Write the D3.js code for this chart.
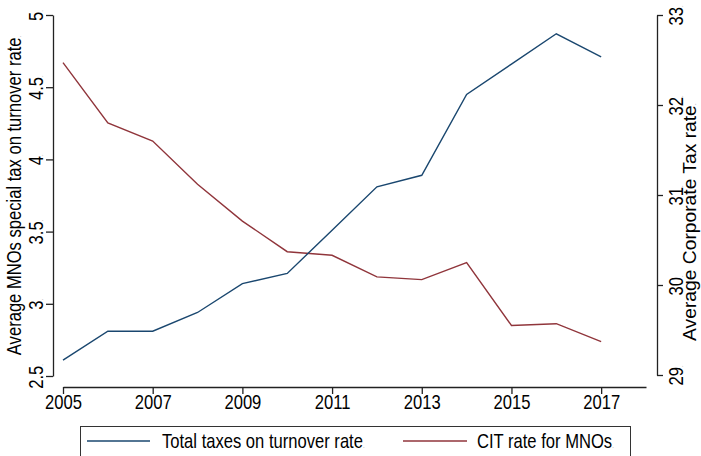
<!DOCTYPE html>
<html>
<head>
<meta charset="utf-8">
<script src="https://cdn.jsdelivr.net/npm/d3@7"></script>
<style>
  body { margin: 0; background: #fff; }
  svg { display: block; font-family: "Liberation Sans", Arial, sans-serif; }
  .domain, .tick line { stroke: #222; }
</style>
</head>
<body>
<svg id="chart" width="701" height="456"></svg>
<script>
// years on the x axis
const years = [2005, 2006, 2007, 2008, 2009, 2010, 2011, 2012, 2013, 2014, 2015, 2016, 2017];
// left axis: total taxes on turnover rate
const turnoverRate = [2.61, 2.81, 2.81, 2.94, 3.14, 3.21, 3.51, 3.81, 3.89, 4.45, 4.66, 4.87, 4.71];
// right axis: CIT rate for MNOs
const citRate = [32.47, 31.80, 31.60, 31.12, 30.71, 30.37, 30.33, 30.09, 30.06, 30.25, 29.55, 29.57, 29.37];

const xTicks = [2005, 2007, 2009, 2011, 2013, 2015, 2017];
const leftTicks = [2.5, 3, 3.5, 4, 4.5, 5];
const rightTicks = [29, 30, 31, 32, 33];
const leftTitle = 'Average MNOs special tax on turnover rate';
const rightTitle = 'Average Corporate Tax rate';
const legendLabels = ['Total taxes on turnover rate', 'CIT rate for MNOs'];
const colors = ['#1a476f', '#90353b'];

const svg = d3.select('#chart');
const squeeze = 0.83; // stata text is narrow

let x = d3.scaleLinear().domain([2005, 2018]).range([63, 646]);
let yLeft = d3.scaleLinear().domain([2.5, 5]).range([376, 15]);
let yRight = d3.scaleLinear().domain([29, 33]).range([375, 15]);

/// little trailing dot after every label, like the export
function addDot(sel) {
  sel.append('tspan').text('.').attr('font-size', '7px').attr('fill', '#999');
}

// x axis
let gx = svg.append('g')
  .attr('transform', 'translate(0,387)')
  .call(d3.axisBottom(x).tickValues(xTicks).tickFormat(d3.format('d')).tickSize(7).tickSizeOuter(0));
gx.selectAll('text')
  .attr('y', 22).attr('dy', null)
  .attr('font-size', '20px').attr('fill', '#000')
  .attr('transform', `scale(${squeeze},1)`);

// left axis
let gl = svg.append('g')
  .attr('transform', 'translate(53,0)')
  .call(d3.axisLeft(yLeft).tickValues(leftTicks).tickFormat(d => d).tickSize(7).tickSizeOuter(0));
gl.selectAll('text')
  .attr('x', 0).attr('y', -10).attr('dy', null)
  .attr('text-anchor', 'middle')
  .attr('font-size', '20px').attr('fill', '#000')
  .attr('transform', `rotate(-90) scale(${squeeze},1)`)
  .call(addDot);

// right axis
let gr = svg.append('g')
  .attr('transform', 'translate(657,0)')
  .call(d3.axisRight(yRight).tickValues(rightTicks).tickFormat(d => d).tickSize(6).tickSizeOuter(0));
gr.selectAll('text')
  .attr('x', 0).attr('y', 26).attr('dy', null)
  .attr('text-anchor', 'middle')
  .attr('font-size', '20px').attr('fill', '#000')
  .attr('transform', `rotate(-90) scale(${squeeze},1)`)
  .call(addDot);

svg.selectAll('.domain').attr('stroke-width', 1.3);
svg.selectAll('.tick line').attr('stroke-width', 1.3);

// axis titles
svg.append('text')
  .attr('transform', `translate(21,${(15 + 376) / 2}) rotate(-90) scale(${squeeze},1)`)
  .attr('text-anchor', 'middle')
  .attr('font-size', '20px')
  .text(leftTitle)
  .call(addDot);

svg.append('text')
  .attr('transform', 'translate(696,222) rotate(-90) scale(1.07,1)')
  .attr('text-anchor', 'middle')
  .attr('font-size', '18px')
  .text(rightTitle)
  .call(addDot);

// the two lines
let lineLeft = d3.line().x((d, i) => x(years[i])).y(d => yLeft(d));
let lineRight = d3.line().x((d, i) => x(years[i])).y(d => yRight(d));

svg.append('path')
  .datum(citRate)
  .attr('d', lineRight)
  .attr('fill', 'none')
  .attr('stroke', colors[1])
  .attr('stroke-width', 1.4);

svg.append('path')
  .datum(turnoverRate)
  .attr('d', lineLeft)
  .attr('fill', 'none')
  .attr('stroke', colors[0])
  .attr('stroke-width', 1.4);

// legend
let legend = svg.append('g');
legend.append('rect')
  .attr('x', 80.5).attr('y', 426.5)
  .attr('width', 550).attr('height', 40)
  .attr('fill', '#fff').attr('stroke', '#333').attr('stroke-width', 1);

let legendX = [[87, 150, 162], [403, 467, 477]];
legendLabels.forEach(function(label, i) {
  legend.append('line')
    .attr('x1', legendX[i][0]).attr('x2', legendX[i][1])
    .attr('y1', 441).attr('y2', 441)
    .attr('stroke', colors[i]).attr('stroke-width', 1.4);
  legend.append('text')
    .attr('transform', `translate(${legendX[i][2]},448) scale(${squeeze},1)`)
    .attr('font-size', '20px')
    .text(label)
    .call(addDot);
});
</script>
</body>
</html>
